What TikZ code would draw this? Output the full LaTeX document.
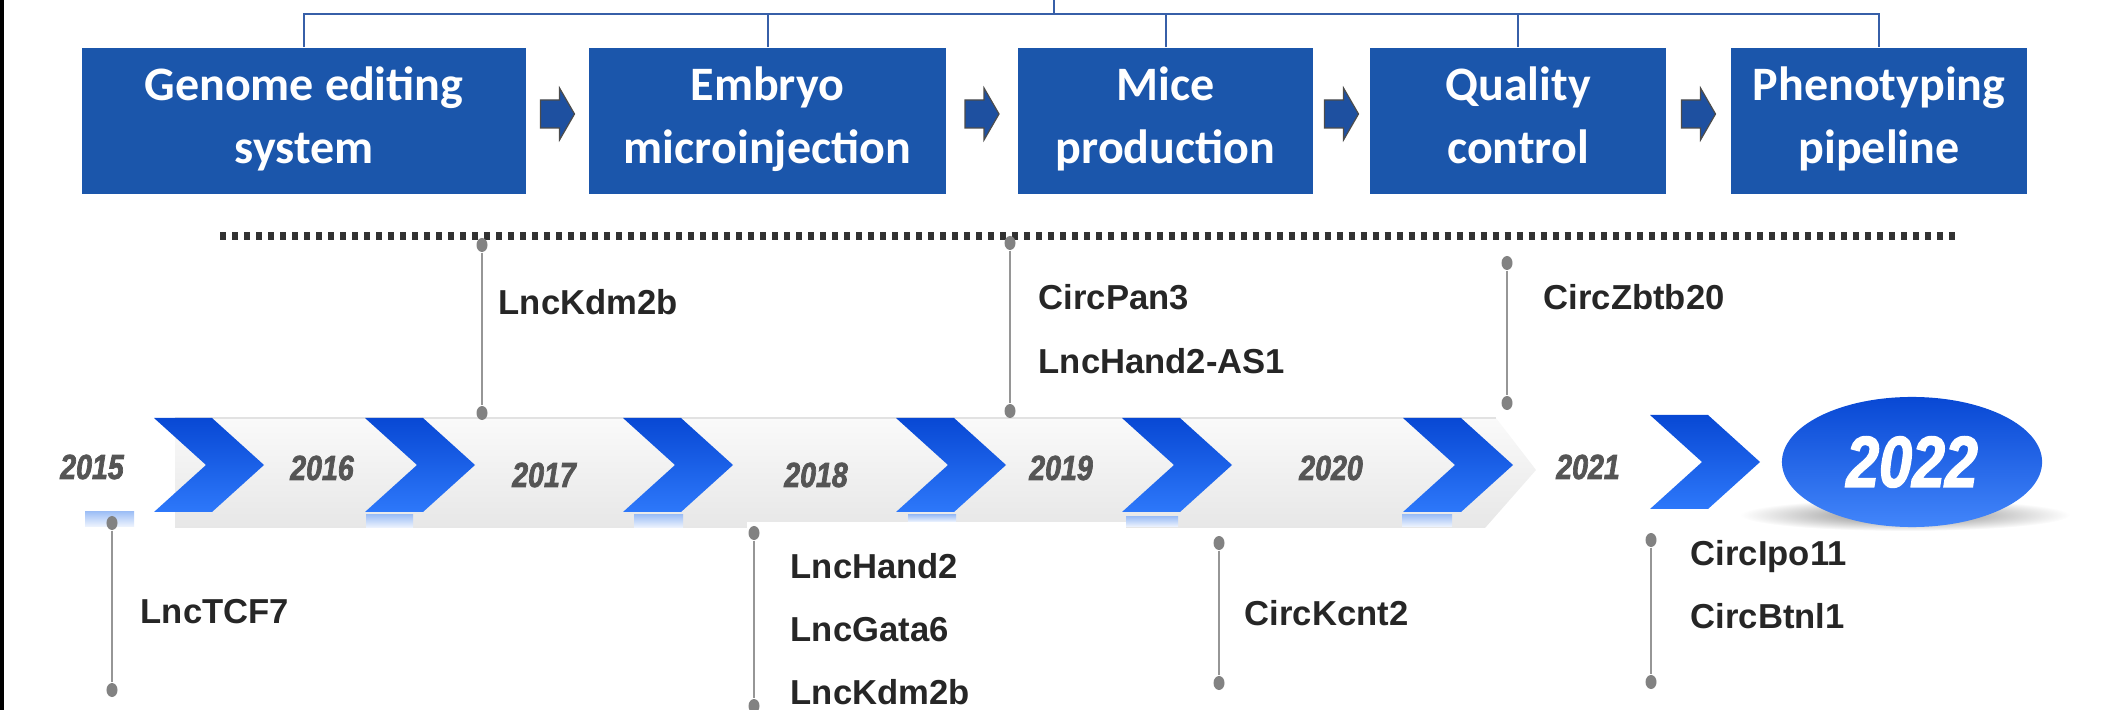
\documentclass[tikz,border=0pt]{standalone}
\usepackage{fontspec}
\setmainfont{Liberation Sans}
\newfontfamily\boxfont{Carlito}
\newfontfamily\yearfont[FakeStretch=0.82,FakeBold=2]{Liberation Sans}
\usetikzlibrary{calc,shapes.geometric}
\definecolor{boxblue}{RGB}{27,86,171}
\definecolor{arrowblue}{RGB}{30,80,160}
\definecolor{chevtop}{RGB}{8,72,212}
\definecolor{chevbot}{RGB}{45,120,250}
\definecolor{bandtop}{RGB}{250,250,250}
\definecolor{bandbot}{RGB}{231,231,231}
\definecolor{bandedge}{RGB}{226,226,226}
\definecolor{pingray}{RGB}{150,150,150}
\definecolor{dotgray}{RGB}{130,130,130}
\definecolor{labeltxt}{RGB}{38,38,38}
\definecolor{yeartxt}{RGB}{85,85,85}
\definecolor{brackblue}{RGB}{55,95,168}
\definecolor{rectblue}{RGB}{160,192,246}
\definecolor{dotline}{RGB}{50,50,50}
\newcommand{\bxt}[2]{\rule{0pt}{9.7pt}#1\\#2\rule[-3.7pt]{0pt}{3.7pt}}
\begin{document}
\begin{tikzpicture}[x=0.01cm,y=-0.01cm,
  stagebox/.style={rectangle,fill=boxblue,text=white,align=center,inner sep=0pt,
    minimum height=1.46cm,font=\boxfont\bfseries\fontsize{13.66pt}{17.9pt}\selectfont},
  bracket/.style={draw=brackblue,line width=0.02cm},
  pinline/.style={draw=pingray,line width=0.02cm},
  pindot/.style={ellipse,fill=dotgray,minimum width=0.11cm,minimum height=0.14cm,inner sep=0pt},
  gene/.style={anchor=base west,inner sep=0pt,text=labeltxt,
    font=\bfseries\fontsize{9.85pt}{12pt}\selectfont},
  year/.style={inner sep=0pt,text=yeartxt,
    font=\yearfont\bfseries\itshape\fontsize{9.9pt}{11pt}\selectfont},
  chev/.pic={\shade[top color=chevtop,bottom color=chevbot]
    (0,0) -- (58,0) -- (110,47) -- (58,94) -- (0,94) -- (52,47) -- cycle;},
  barrow/.pic={\filldraw[fill=arrowblue,draw=black!70,line width=0.012cm]
    (-17,-14) -- (2,-14) -- (2,-26) -- (17,0) -- (2,26) -- (2,14) -- (-17,14) -- cycle;},
  ulrect/.style={top color=rectblue,bottom color=rectblue!15}
]
\useasboundingbox (0,0) rectangle (2101,710);
\fill[black] (0,0) rectangle (4,710);

% ---- top process boxes ----
\node[stagebox,minimum width=4.44cm] (b1) at (304,121) {\bxt{Genome editing}{system}};
\node[stagebox,minimum width=3.57cm] (b2) at (767.5,121) {\bxt{Embryo}{microinjection}};
\node[stagebox,minimum width=2.95cm] (b3) at (1165.5,121) {\bxt{Mice}{production}};
\node[stagebox,minimum width=2.96cm] (b4) at (1518,121) {\bxt{Quality}{control}};
\node[stagebox,minimum width=2.96cm] (b5) at (1879,121) {\bxt{Phenotyping}{pipeline}};

\coordinate (brk) at (1054,14);
\coordinate (brktop) at (1054,0);
\draw[bracket] (b1.north) |- (brk) -| (b5.north);
\draw[bracket] (b2.north) -- (b2.north |- brk);
\draw[bracket] (b3.north) -- (b3.north |- brk);
\draw[bracket] (b4.north) -- (b4.north |- brk);
\draw[bracket] (brk) -- (brktop);

\pic at ($(b1.east)!0.5!(b2.west)+(0,-7)$) {barrow};
\pic at ($(b2.east)!0.5!(b3.west)+(0,-7)$) {barrow};
\pic at ($(b3.east)!0.5!(b4.west)+(0,-7)$) {barrow};
\pic at ($(b4.east)!0.5!(b5.west)+(0,-7)$) {barrow};

% ---- dotted separator ----
\coordinate (dl1) at (220,236);
\coordinate (dl2) at (1957,236);
\draw[dotline,line width=0.075cm,dash pattern=on 0.06cm off 0.06cm] (dl1) -- (dl2);

% ---- timeline band ----
\shade[top color=bandtop,bottom color=bandbot]
  (175,418) -- (1496,418) -- (1536,470) -- (1485,528) -- (175,528) -- cycle;
\draw[bandedge,line width=0.015cm] (175,418) -- (1496,418);
\fill[white] (747,522) rectangle (1126,529);

\shade[ulrect] (85,512) rectangle (134,527);
\shade[ulrect] (366,515) rectangle (413,528);
\shade[ulrect] (634,515) rectangle (683,528);
\shade[ulrect] (908,515) rectangle (956,522);
\shade[ulrect] (1126,517) rectangle (1178,527);
\shade[ulrect] (1402,515) rectangle (1452,527);

\pic at (154,418) {chev};
\pic at (365,418) {chev};
\pic at (623,418) {chev};
\pic at (896,418) {chev};
\pic at (1122,418) {chev};
\pic at (1403,418) {chev};
\pic at (1650,415) {chev};

\node[year] (y15) at (92,467) {2015};
\node[year] (y16) at (322,468) {2016};
\node[year] (y17) at (544,475) {2017};
\node[year] (y18) at (816,475) {2018};
\node[year] (y19) at (1061,468) {2019};
\node[year] (y20) at (1331,468) {2020};
\node[year] (y21) at (1588,467) {2021};

\shade[inner color=black!50,outer color=white] (1905,515) ellipse (1.65cm and 0.16cm);
\node[ellipse,minimum width=2.6cm,minimum height=1.3cm,inner sep=0pt,
  top color=chevtop,bottom color=chevbot!90!white,text=white,
  font=\yearfont\bfseries\itshape\fontsize{20.5pt}{22pt}\selectfont] (y22) at (1912,462) {2022};

% ---- pins ----
\node[pindot] (p1a) at (112,523) {};   \node[pindot] (p1b) at (112,690) {};
\node[pindot] (p2a) at (482,245) {};   \node[pindot] (p2b) at (482,413) {};
\node[pindot] (p3a) at (1010,243) {};  \node[pindot] (p3b) at (1010,411) {};
\node[pindot] (p4a) at (1507,263) {};  \node[pindot] (p4b) at (1507,403) {};
\node[pindot] (p5a) at (754,533) {};   \node[pindot] (p5b) at (754,706) {};
\node[pindot] (p6a) at (1219,543) {};  \node[pindot] (p6b) at (1219,683) {};
\node[pindot] (p7a) at (1651,540) {};  \node[pindot] (p7b) at (1651,682) {};
\foreach \p in {1,...,7}{\draw[pinline] (p\p a) -- (p\p b);}

% ---- gene labels ----
\node[gene] (g1) at (140,623) {LncTCF7};
\node[gene] (g2) at (498,315) {LncKdm2b};
\node[gene] (g3) at (1038,310) {CircPan3};
\node[gene] (g4) at (1038,374) {LncHand2-AS1};
\node[gene] (g5) at (1543,310) {CircZbtb20};
\node[gene] (g6) at (790,578) {LncHand2};
\node[gene] (g7) at (790,641) {LncGata6};
\node[gene] (g8) at (790,704) {LncKdm2b};
\node[gene] (g9) at (1244,625) {CircKcnt2};
\node[gene] (g10) at (1690,565) {CircIpo11};
\node[gene] (g11) at (1690,628) {CircBtnl1};
\end{tikzpicture}
\end{document}
